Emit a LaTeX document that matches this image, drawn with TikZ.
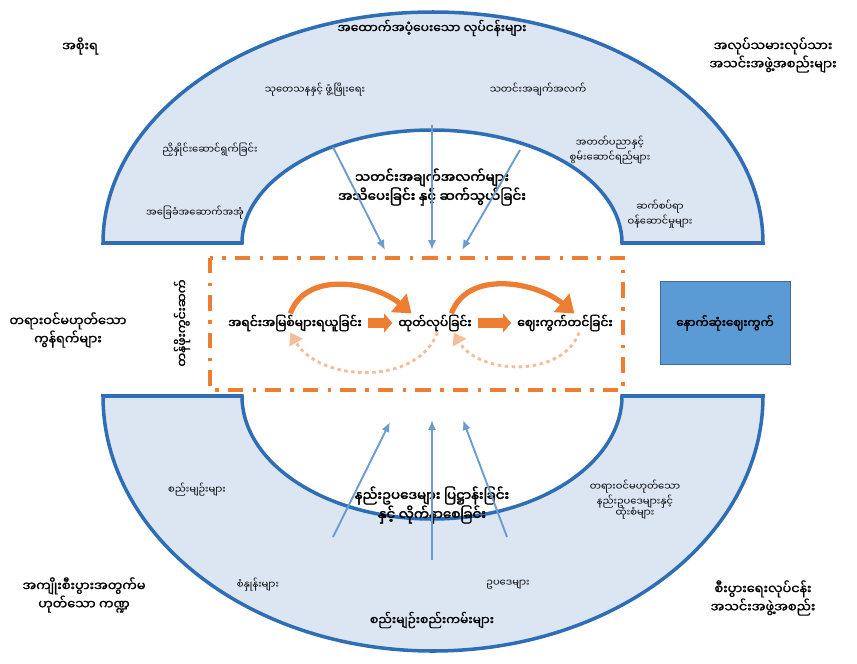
\documentclass[tikz,border=0pt]{standalone}
\usepackage{fontspec}
\newfontfamily\mya[Script=Myanmar,AutoFakeBold=2.5]{Noto Sans Myanmar UI}
\newfontfamily\myasemi[Script=Myanmar,FakeBold=1.2]{Noto Sans Myanmar UI}
\usetikzlibrary{arrows.meta}
\definecolor{archblue}{HTML}{2F6EB5}
\definecolor{bandfill}{HTML}{DCE6F2}
\definecolor{flowblue}{HTML}{6A9CD2}
\definecolor{vcorange}{HTML}{ED7D31}
\definecolor{marketblue}{HTML}{5B9BD5}
\newcommand{\vcsmall}[3] {\node at (#1) (#2) [align=center, font=\mya\fontsize{8.5}{10}\selectfont] {#3};}
\newcommand{\vctitle}[3] {\node at (#1) (#2) [align=center, font=\myasemi\fontsize{10.5}{12}\selectfont] {#3};}
\newcommand{\vclarge}[3] {\node at (#1) (#2) [align=center, font=\myasemi\fontsize{11}{13}\selectfont] {#3};}
\newcommand{\vcbold}[3] {\node at (#1) (#2) [align=center, inner sep=1pt, font=\mya\bfseries\fontsize{11.5}{12.5}\selectfont] {#3};}
\newcommand{\vcchain}[3] {\node at (#1) (#2) [inner sep=1pt, font=\mya\bfseries\fontsize{10.5}{12}\selectfont] {#3};}
\newcommand{\vcflow}[2] {\draw [flowblue, line width=1.6pt, -{Latex[length=3mm,width=2.5mm]}] (#1) -- (#2);}
\newcommand{\vcloop}[4] {\draw [vcorange, line width=4.5pt, -{Triangle[length=5mm,width=7mm]}] (#1) to[out=#3, in=#4] (#2);}
\newcommand{\vcback}[4] {\draw [vcorange!50, line width=2.5pt, dashed, -{Triangle[length=3.5mm,width=4.5mm]}] (#1) to[out=#3, in=#4] (#2);}
\newcommand{\vcstep}[2] {\draw [vcorange, line width=8pt, -{Triangle[length=7pt,width=16pt]}] ([xshift=4pt]#1.east) -- ([xshift=-4pt]#2.west);}

\begin{document}
\begin{tikzpicture}[x=0.03cm, y=0.03cm]
\useasboundingbox (0,0) rectangle (857,-663);

% the two bands
\draw [archblue, line width=3pt, fill=bandfill] (103,-243) arc [start angle=180, end angle=0, x radius=330, y radius=231] -- (622,-243) arc [start angle=0, end angle=180, x radius=190, y radius=113] -- cycle;
\draw [archblue, line width=3pt, fill=bandfill] (103,-396) arc [start angle=180, end angle=360, x radius=330, y radius=255] -- (622,-396) arc [start angle=360, end angle=180, x radius=190, y radius=123] -- cycle;

% value chain frame
\draw [vcorange, line width=3pt, dash pattern=on 13pt off 8pt on 3pt off 8pt] (210,-258) rectangle (623,-390);

% corners
\vclarge {80,-46} {gov} {အစိုးရ};
\vclarge {773,-55} {labour} {အလုပ်သမားလုပ်သား\\အသင်းအဖွဲ့အစည်းများ};
\vclarge {68,-330} {informal} {တရားဝင်မဟုတ်သော\\ကွန်ရက်များ};
\vclarge {84,-595} {nonprofit} {အကျိုးစီးပွားအတွက်မ\\ဟုတ်သော ကဏ္ဍ};
\vclarge {763,-598} {business} {စီးပွားရေးလုပ်ငန်း\\အသင်းအဖွဲ့အစည်း};

% supporting functions
\vctitle {432,-28} {support} {အထောက်အပံ့ပေးသော လုပ်ငန်းများ};
\vcsmall {315,-90} {rnd} {သုတေသနနှင့် ဖွံ့ဖြိုးရေး};
\vcsmall {538,-90} {info} {သတင်းအချက်အလက်};
\vcsmall {210,-150} {coord} {ညှိနှိုင်းဆောင်ရွက်ခြင်း};
\vcsmall {195,-213} {infra} {အခြေခံအဆောက်အအုံ};
\vcsmall {610,-150} {skills} {အတတ်ပညာနှင့်\\စွမ်းဆောင်ရည်များ};
\vcsmall {660,-214} {services} {ဆက်စပ်ရာ\\ဝန်ဆောင်မှုများ};
\vcbold {432,-187} {inform} {သတင်းအချက်အလက်များ\\အသိပေးခြင်း နှင့် ဆက်သွယ်ခြင်း};

% rules
\vctitle {432,-620} {rules} {စည်းမျဉ်းစည်းကမ်းများ};
\vcsmall {197,-490} {regs} {စည်းမျဉ်းများ};
\vcsmall {258,-585} {stds} {စံနှုန်းများ};
\vcsmall {508,-585} {laws} {ဥပဒေများ};
\vcsmall {635,-500} {norms} {တရားဝင်မဟုတ်သော\\နည်းဥပဒေများနှင့်\\ထုံးစံများ};
\vcbold {432,-505} {enforce} {နည်းဥပဒေများ ပြဋ္ဌာန်းခြင်း\\နှင့် လိုက်နာစေခြင်း};

% core chain
\node at (182,-323) (chain) [rotate=90, font=\myasemi\fontsize{10.5}{12}\selectfont] {တန်ဖိုးကွင်းဆက်};
\vcchain {295,-323} {src} {အရင်းအမြစ်များရယူခြင်း};
\vcchain {435,-323} {prod} {ထုတ်လုပ်ခြင်း};
\vcchain {565,-323} {mkt} {ဈေးကွက်တင်ခြင်း};
\node at (725,-323) (final) [fill=marketblue, draw=marketblue!70!black, line width=0.8pt, minimum width=3.9cm, minimum height=2.5cm, font=\mya\bfseries\fontsize{10}{11}\selectfont] {နောက်ဆုံးဈေးကွက်};

\vcstep {src} {prod};
\vcstep {prod} {mkt};
\vcloop {[xshift=-4pt]src.north} {[xshift=-20pt]prod.north} {70} {140};
\vcloop {[xshift=14pt]prod.north} {[xshift=8pt]mkt.north} {70} {140};
\vcback {[xshift=2pt]prod.south} {[xshift=-4pt]src.south} {-110} {-60};
\vcback {[xshift=12pt]mkt.south} {[xshift=16pt]prod.south} {-110} {-60};

% flows into the chain
\coordinate (in1) at (333,-147);
\coordinate (in2) at (432,-125);
\coordinate (in3) at (520,-150);
\coordinate (to1) at (385,-250);
\coordinate (to2) at (432,-250);
\coordinate (to3) at (462,-250);
\coordinate (up1) at (333,-537);
\coordinate (up2) at (432,-560);
\coordinate (up3) at (507,-537);
\coordinate (at1) at (390,-422);
\coordinate (at2) at (432,-420);
\coordinate (at3) at (463,-420);
\vcflow{in1}{to1};
\vcflow{in2}{to2};
\vcflow{in3}{to3};
\vcflow{up1}{at1};
\vcflow{up2}{at2};
\vcflow{up3}{at3};
\end{tikzpicture}
\end{document}
